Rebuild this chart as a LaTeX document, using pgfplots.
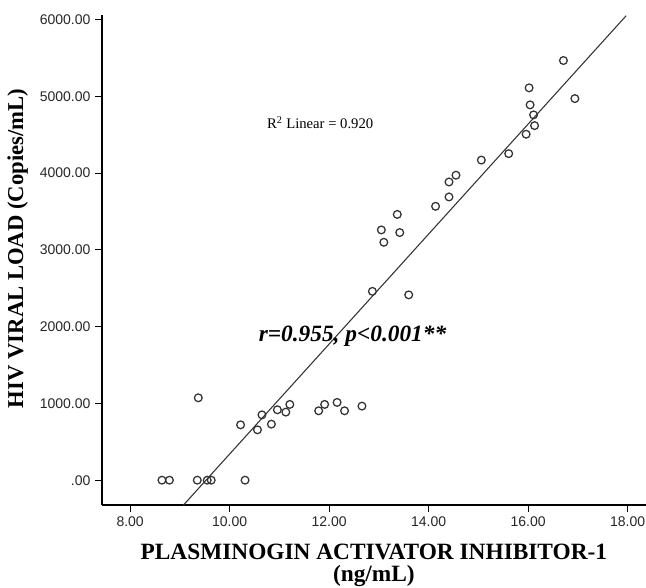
\documentclass[border=0pt]{standalone}
\usepackage{fontspec}
\setmainfont{Liberation Serif}
\setsansfont{Liberation Sans}
\usepackage{pgfplots}
\pgfplotsset{compat=1.18}
\usetikzlibrary{calc}

% PAI-1 (ng/mL) vs HIV viral load (copies/mL)
\pgfplotstableread{
x      y
8.64   0
8.79   0
9.35   0
9.55   0
9.63   0
10.31  0
9.37   1073
10.22  721
10.56  656
10.65  851
10.84  730
10.96  917
11.13  887
11.21  987
11.79  904
11.91  987
12.16  1013
12.31  904
12.66  965
12.87  2460
13.60  2414
13.05  3260
13.10  3099
13.37  3462
13.42  3226
14.14  3568
14.41  3690
14.41  3885
14.55  3973
15.06  4170
15.61  4254
15.96  4507
16.13  4619
16.11  4759
16.04  4889
16.02  5111
16.94  4971
16.71  5467
}\paitable

\begin{document}
\begin{tikzpicture}
\begin{axis}[
  scale only axis,
  width=408pt, height=367.5pt,
  xmin=7.43, xmax=18.37, ymin=-326, ymax=6060,
  axis x line*=bottom, axis y line*=left,
  axis line style={black, line width=1.1pt},
  tick align=outside,
  major tick length=5pt,
  tick style={black, line width=0.8pt},
  xtick={8,10,12,14,16,18},
  xticklabels={8.00,10.00,12.00,14.00,16.00,18.00},
  ytick={0,1000,2000,3000,4000,5000,6000},
  yticklabels={.00,1000.00,2000.00,3000.00,4000.00,5000.00,6000.00},
  tick label style={font=\sffamily\fontsize{10.5}{12}\selectfont, text=black!85},
  xlabel={PLASMINOGIN ACTIVATOR INHIBITOR-1\\(ng/mL)},
  ylabel={HIV VIRAL LOAD (Copies/mL)},
  xlabel style={font=\bfseries\fontsize{17.5}{16.5}\selectfont, align=center, yshift=-6pt},
  ylabel style={font=\bfseries\fontsize{17}{17}\selectfont, at={(ticklabel cs:0.524)}, yshift=2pt},
  clip=false,
]
\addplot[black!80, line width=0.8pt] coordinates {(9.07,-326) (17.97,6050)};
\addplot[only marks, mark=o, mark size=2.9pt, black!80, line width=0.95pt]
  table[x=x, y=y] {\paitable};
\node[font=\fontsize{11}{12}\selectfont] at (axis cs:11.82,4654) {R\textsuperscript{2} Linear = 0.920};
\node[font=\bfseries\itshape\fontsize{17.5}{17}\selectfont] at (axis cs:12.47,1877) {r=0.955, p<0.001**};
\end{axis}
\pgfresetboundingbox
\path ($(current axis.south west)+(-76.3pt,-61.5pt)$) rectangle ($(current axis.north east)+(0pt,11.25pt)$);
\end{tikzpicture}
\end{document}
